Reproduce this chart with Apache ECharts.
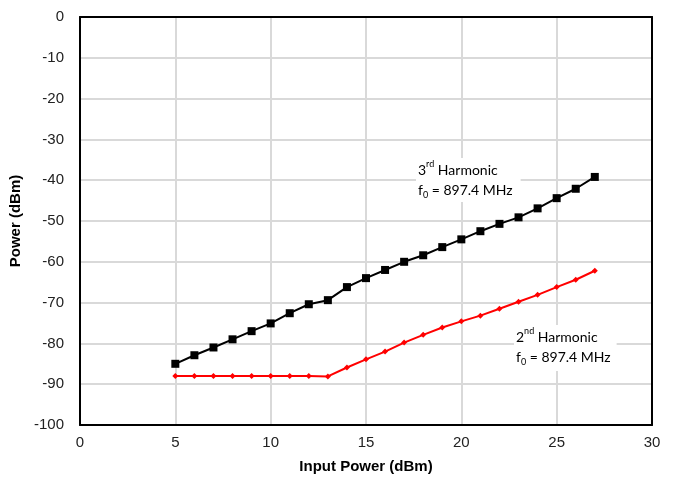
<!DOCTYPE html>
<html><head><meta charset="utf-8">
<script src="https://cdn.jsdelivr.net/npm/echarts@6/dist/echarts.min.js"></script>
<style>html,body{margin:0;padding:0;background:#fff}#c{width:676px;height:480px}</style>
</head><body><div id="c"></div>
<script>
const inputPower = [5,6,7,8,9,10,11,12,13,14,15,16,17,18,19,20,21,22,23,24,25,26,27];
const third = [-85.0,-82.9,-81.0,-79.0,-77.0,-75.1,-72.6,-70.4,-69.4,-66.2,-64.0,-62.0,-60.0,-58.4,-56.4,-54.5,-52.5,-50.7,-49.1,-46.9,-44.4,-42.1,-39.2];
const second = [-88.0,-88.0,-88.0,-88.0,-88.0,-88.0,-88.0,-88.0,-88.1,-85.9,-83.9,-82.0,-79.8,-77.9,-76.1,-74.6,-73.2,-71.5,-69.8,-68.1,-66.2,-64.4,-62.2];
const xTitle = 'Input Power (dBm)';
const yTitle = 'Power (dBm)';

const chart = echarts.init(document.getElementById('c'));
const pair = (xs, ys) => xs.map((x, i) => [x, ys[i]]);
const richStyle = {
  n: {fontFamily: 'Lato', fontSize: 14, color: '#111', lineHeight: 20},
  sup: {fontFamily: 'Lato', fontSize: 9, color: '#111', verticalAlign: 'top', lineHeight: 20, padding: [0,0,7,0]},
  sub: {fontFamily: 'Lato', fontSize: 9, color: '#111', verticalAlign: 'bottom', lineHeight: 20, padding: [6,0,0,0]}
};
const frameAxis = {axisLine: {show: true, onZero: false, lineStyle: {color: '#000', width: 2}}, axisTick: {show: false}, axisLabel: {show: false}, splitLine: {show: false}};
chart.setOption({
  animation: false,
  grid: {left: 80, right: 24, top: 17, bottom: 55},
  xAxis: [{
    type: 'value', min: 0, max: 30, interval: 5,
    name: xTitle, nameLocation: 'middle', nameGap: 34,
    nameTextStyle: {fontFamily: 'Liberation Sans', fontWeight: 'bold', fontSize: 15, color: '#000'},
    axisLine: {show: true, onZero: false, lineStyle: {color: '#000', width: 2}}, axisTick: {show: false},
    axisLabel: {fontFamily: 'Liberation Sans', fontSize: 15, color: '#222', margin: 10},
    splitLine: {lineStyle: {color: '#d9d9d9', width: 2}}
  }, Object.assign({type: 'value', min: 0, max: 30, interval: 5, position: 'top'}, frameAxis)],
  yAxis: [{
    type: 'value', min: -100, max: 0, interval: 10,
    name: yTitle, nameLocation: 'middle', nameGap: 46,
    nameTextStyle: {fontFamily: 'Liberation Sans', fontWeight: 'bold', fontSize: 15, color: '#000'},
    axisLine: {show: true, onZero: false, lineStyle: {color: '#000', width: 2}}, axisTick: {show: false},
    axisLabel: {fontFamily: 'Liberation Sans', fontSize: 15, color: '#222', margin: 16},
    splitLine: {lineStyle: {color: '#d9d9d9', width: 2}}
  }, Object.assign({type: 'value', min: -100, max: 0, interval: 10, position: 'right'}, frameAxis)],
  graphic: [
    {type: 'text', left: 416, top: 158, z: 10,
     style: {text: '{n|3}{sup|rd}{n| Harmonic}\n{n|f}{sub|0}{n| = 897.4 MHz}', rich: richStyle, backgroundColor: '#fff', padding: [2,8,2,2]}},
    {type: 'text', left: 514, top: 325, z: 10,
     style: {text: '{n|2}{sup|nd}{n| Harmonic}\n{n|f}{sub|0}{n| = 897.4 MHz}', rich: richStyle, backgroundColor: '#fff', padding: [2,6,4,2]}}
  ],
  series: [
    {type: 'line', data: pair(inputPower, third), symbol: 'rect', symbolSize: 8,
     lineStyle: {color: '#000', width: 2}, itemStyle: {color: '#000'}, z: 5},
    {type: 'line', data: pair(inputPower, second), symbol: 'diamond', symbolSize: 6,
     lineStyle: {color: '#ff0000', width: 2}, itemStyle: {color: '#ff0000'}, z: 5}
  ]
});
</script></body></html>
